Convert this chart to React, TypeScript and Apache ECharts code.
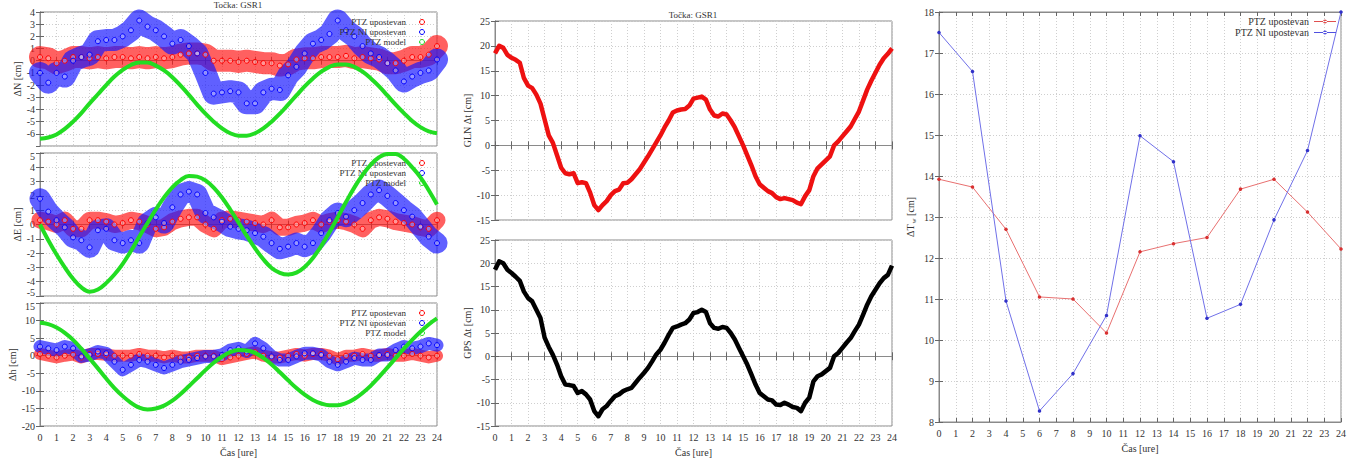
import React, { useEffect, useRef } from 'react';
import * as echarts from 'echarts';

// ---------- DATA ----------
// Left panel: half-hour readings (0, 0.5, ... 24 h)
const N_RED = [0.3,0.2,-0.2,0.0,0.3,0.3,0.2,0.3,0.2,0.3, 0.3,0.2,0.3,0.2,0.3,0.2,0.3,0.5,0.6,0.6, 0.5,0.0,0.0,0.0,-0.1,0.0,-0.1,-0.2,-0.2,-0.4, -0.3,0.1,0.2,0.2,0.3,0.3,0.3,0.4,0.2,0.3, 0.2,0.1,-0.2,-0.2,0.0,0.3,0.3,0.5,1.2];
const N_BLUE = [-1.0,-1.8,-1.0,-1.3,0.0,0.3,0.5,1.6,1.7,1.7, 2.0,2.5,3.3,2.8,2.5,2.0,1.4,1.7,1.2,0.6, -1.0,-2.7,-2.6,-2.5,-2.6,-3.5,-3.5,-2.6,-2.3,-2.4, -1.2,-0.5,0.6,1.4,1.7,2.2,3.3,2.5,2.0,1.2, 0.6,0.3,-0.2,-0.8,-1.7,-1.3,-1.0,-0.8,0.1];
const N_MODEL = [-6.4,-6.3,-6.05,-5.6,-5.0,-4.3,-3.5,-2.75,-2.0,-1.3, -0.75,-0.35,-0.15,-0.15,-0.4,-0.8,-1.35,-2.05,-2.8,-3.6, -4.35,-5.0,-5.55,-5.95,-6.15,-6.15,-5.95,-5.55,-5.0,-4.35, -3.6,-2.85,-2.1,-1.45,-0.9,-0.5,-0.3,-0.3,-0.5,-0.9, -1.45,-2.1,-2.85,-3.6,-4.3,-4.95,-5.45,-5.8,-5.95];

const E_RED = [0.3,0.2,0.0,0.3,-0.3,-0.3,0.3,0.3,0.2,0.0, 0.1,0.3,0.2,0.0,-0.3,-0.2,0.2,0.4,0.5,0.5, 0.0,-0.3,0.3,0.4,0.3,0.2,0.1,0.0,0.3,-0.2, -0.2,0.0,0.1,0.3,0.0,0.2,0.3,0.2,0.0,-0.3, 0.3,0.5,0.4,0.2,0.1,0.0,-0.2,-0.3,0.3];
const E_BLUE = [1.8,0.9,0.3,-0.2,-0.9,-1.1,-1.6,-0.4,-0.3,-1.1, -1.3,-1.1,-1.3,0.1,0.5,0.1,1.2,2.1,2.3,2.1, 0.8,0.5,0.2,-0.15,-0.3,-0.4,-0.6,-0.85,-1.3,-1.7, -1.55,-1.3,-1.55,-1.3,-0.6,0.3,0.8,0.55,1.0,1.5, 2.1,2.4,2.0,1.5,1.0,0.55,-0.15,-0.85,-1.3];
const E_MODEL = [0.0,-1.1,-2.1,-3.0,-3.8,-4.4,-4.7,-4.55,-4.1,-3.5, -2.75,-1.85,-0.85,0.1,1.05,1.9,2.6,3.1,3.4,3.35, 3.08,2.58,1.89,1.05,0.14,-0.8,-1.66,-2.43,-3.04,-3.38, -3.5,-3.37,-2.97,-2.34,-1.51,-0.54,0.51,1.57,2.58,3.47, 4.19,4.7,4.93,4.93,4.6,4.0,3.3,2.4,1.4];

const H_RED = [0.5,0.0,-0.5,0.0,0.3,-0.5,0.5,0.5,0.3,0.0, 0.0,0.0,0.5,0.0,0.0,-0.5,0.0,-0.5,-0.5,0.0, 0.0,0.0,-1.0,-0.5,0.0,0.5,1.0,0.0,-0.5,-0.5, 0.0,0.5,0.0,0.5,0.5,0.0,-1.0,0.0,0.0,0.5, 0.0,0.0,0.5,0.0,0.0,0.5,0.0,-0.5,0.0];
const H_BLUE = [2.6,2.1,1.6,2.6,2.1,-0.2,0.2,1.2,0.7,-1.7, -4.0,-2.6,-1.2,-1.7,-2.6,-3.5,-2.6,-1.7,-1.2,-0.7, -0.2,-0.2,0.2,1.6,2.1,1.2,3.5,2.1,-0.2,-1.2, -1.2,-0.2,0.7,0.7,0.2,-1.7,-2.6,-1.7,-0.7,-1.2, -1.2,0.2,0.2,1.6,2.6,2.1,2.6,3.5,3.0];
const H_MODEL = [9.4,9.0,8.0,6.5,4.5,2.0,-0.8,-3.6,-6.5,-9.2, -11.5,-13.4,-14.8,-15.3,-15.0,-14.2,-12.8,-10.9,-8.7,-6.4, -4.1,-2.0,-0.3,1.0,1.6,1.5,0.8,-0.6,-2.5,-4.7, -7.0,-9.2,-11.1,-12.6,-13.6,-14.1,-14.1,-13.5,-12.3,-10.6, -8.5,-6.0,-3.4,-0.7,2.0,4.5,6.8,8.9,10.6];

// Middle panel: quarter-hour readings (0, 0.25, ... 24 h)
const GLN = [18.5,20.0,19.6,18.2, 17.6,17.2,16.6,13.5, 12.0,11.5,10.2,8.4, 5.2,2.0,0.5,-2.0, -4.5,-5.6,-5.8,-5.6, -7.6,-7.4,-7.6,-9.5, -12.0,-13.0,-12.0,-11.2, -10.0,-9.2,-8.9,-7.6, -7.5,-6.8,-5.8,-4.8, -3.5,-2.2,-0.8,0.6, 2.0,3.6,5.0,6.6, 7.0,7.2,7.3,8.0, 9.4,9.6,9.8,9.2, 7.2,6.0,5.8,6.4, 6.2,5.0,3.6,1.8, 0.0,-2.0,-4.0,-6.2, -7.8,-8.5,-9.2,-9.6, -10.4,-10.8,-10.6,-10.8, -11.0,-11.5,-11.8,-10.2, -9.0,-6.2,-4.6,-3.8, -3.0,-2.2,0.0,0.8, 1.8,2.8,3.8,5.3, 6.8,9.0,11.2,13.0, 14.6,16.2,17.5,18.4, 19.5];
const GPS = [18.6,20.4,20.0,18.6, 17.9,17.1,16.2,13.9, 12.5,11.8,10.0,8.2, 4.0,2.0,0.3,-1.8, -4.3,-6.1,-6.2,-6.4, -7.9,-7.5,-8.2,-9.3, -11.8,-12.9,-11.4,-10.7, -9.6,-8.6,-8.2,-7.5, -7.1,-6.8,-5.7,-4.6, -3.6,-2.5,-1.1,0.4, 1.4,2.9,4.6,6.1, 6.4,6.8,7.1,7.9, 9.3,9.5,10.0,9.5, 7.1,6.1,5.9,6.3, 6.1,5.0,3.6,1.8, 0.0,-1.8,-3.9,-6.1, -7.9,-8.6,-9.3,-9.5, -10.4,-10.5,-10.0,-10.4, -10.9,-11.1,-11.8,-10.0, -8.9,-5.4,-4.3,-3.9, -3.2,-2.5,0.0,0.7, 1.8,2.9,3.9,5.4, 6.8,8.9,11.1,12.9, 14.3,15.7,16.8,17.5, 19.5];

// Right panel: two-hourly values
const TW_HOURS = [0, 2, 4, 6, 8, 10, 12, 14, 16, 18, 20, 22, 24];
const TW_RED = [13.92, 13.73, 12.70, 11.05, 11.00, 10.17, 12.15, 12.35, 12.50, 13.68, 13.92, 13.12, 12.22];
const TW_BLUE = [17.50, 16.55, 10.95, 8.27, 9.18, 10.60, 14.98, 14.35, 10.53, 10.87, 12.93, 14.62, 18.0];

const NAME_RED = 'PTZ upostevan';
const NAME_BLUE = 'PTZ NI upostevan';
const NAME_MODEL = 'PTZ model';
const TITLE = 'Točka: GSR1';
const X_NAME = 'Čas [ure]';

// ---------- OPTION ----------
const FONT = "'Liberation Serif', 'DejaVu Serif', serif";
const RED = '#ff0000';
const BLUE = '#0000ff';
const GREEN = '#22dd22';

const pairs = (vals: number[], step: number) => vals.map((v, i) => [i * step, v]);
const pairsAt = (xs: number[], vals: number[]) => vals.map((v, i) => [xs[i], v]);

const GRIDS = [
  { left: 40, top: 12, width: 397, height: 134 },
  { left: 40, top: 153, width: 397, height: 143 },
  { left: 40, top: 303, width: 397, height: 124 },
  { left: 495, top: 21, width: 397, height: 199 },
  { left: 495, top: 240, width: 397, height: 187 },
  { left: 939, top: 12, width: 406, height: 415 },
];

const Y_CFG = [
  { min: -7, max: 4, interval: 1, name: 'ΔN [cm]', gap: 17 },
  { min: -5, max: 5, interval: 1, name: 'ΔE [cm]', gap: 17 },
  { min: -20, max: 15, interval: 5, name: 'Δh [cm]', gap: 22 },
  { min: -15, max: 25, interval: 5, name: 'GLN Δt [cm]', gap: 22 },
  { min: -15, max: 25, interval: 5, name: 'GPS Δt [cm]', gap: 22 },
  { min: 8, max: 18, interval: 1, name: '{a|ΔT}{s|w}{a| [cm]}', gap: 22 },
];
const X_LABELS = [false, false, true, false, true, true];
// stacked left panels: shift the shared edge labels apart a little
const SHIFT_MIN = [true, true, false, false, false, false];
const SHIFT_MAX = [false, true, true, false, false, false];

function buildOption(): any {
  const axisLine = { show: true, lineStyle: { color: '#8a8a8a', width: 1 } };
  const axisTick = { show: true, inside: true, length: 4, lineStyle: { color: '#666' } };
  const splitLine = { show: true, lineStyle: { color: '#cfcfcf', type: [1, 2], width: 1 } };
  const labelStyle = { fontFamily: FONT, fontSize: 10, color: '#333' };

  const grid = GRIDS.map((g) => ({ ...g, show: true, borderColor: '#8a8a8a', borderWidth: 1, backgroundColor: 'transparent' }));
  const xAxis: any[] = [];
  const yAxis: any[] = [];
  GRIDS.forEach((_, i) => {
    xAxis.push({
      type: 'value', gridIndex: i, min: 0, max: 24, interval: 1, position: 'bottom',
      axisLine, axisTick, splitLine,
      axisLabel: { show: X_LABELS[i], margin: 6, ...labelStyle },
      name: X_LABELS[i] ? X_NAME : '', nameLocation: 'middle', nameGap: 21,
      nameTextStyle: { fontFamily: FONT, fontSize: 10, color: '#333' },
    });
    xAxis.push({
      type: 'value', gridIndex: i, min: 0, max: 24, interval: 1, position: 'top',
      axisLine, axisTick, splitLine: { show: false }, axisLabel: { show: false },
    });
    const c = Y_CFG[i];
    yAxis.push({
      type: 'value', gridIndex: i, min: c.min, max: c.max, interval: c.interval, position: 'left',
      axisLine, axisTick, splitLine,
      axisLabel: {
        margin: 5, ...labelStyle,
        formatter: (v: number) => {
          if (v === c.min && SHIFT_MIN[i]) return `{lo|${v}}`;
          if (v === c.max && SHIFT_MAX[i]) return `{hi|${v}}`;
          return `${v}`;
        },
        rich: {
          lo: { ...labelStyle, padding: [0, 0, 7, 0] },
          hi: { ...labelStyle, padding: [7, 0, 0, 0] },
        },
      },
      name: c.name, nameLocation: 'middle', nameRotate: 90, nameGap: c.gap,
      nameTextStyle: {
        fontFamily: FONT, fontSize: 10, color: '#333',
        rich: { a: { fontFamily: FONT, fontSize: 10, color: '#333' }, s: { fontFamily: FONT, fontSize: 7, color: '#333', padding: [6, 0, 0, 1] } },
      },
    });
    yAxis.push({
      type: 'value', gridIndex: i, min: c.min, max: c.max, interval: c.interval, position: 'right',
      axisLine, axisTick, splitLine: { show: false }, axisLabel: { show: false },
    });
  });

  const cloud = (name: string, g: number, vals: number[], color: string, band: string, width: number) => ({
    type: 'line', name, xAxisIndex: 2 * g, yAxisIndex: 2 * g, data: pairs(vals, 0.5),
    showSymbol: true, symbol: 'circle', symbolSize: 5,
    itemStyle: { color: 'rgba(255,255,255,0.35)', borderColor: color, borderWidth: 1 },
    lineStyle: { color: band, width, cap: 'round', join: 'round' },
    silent: true, animation: false,
  });
  const model = (g: number, vals: number[]) => ({
    type: 'line', name: NAME_MODEL, xAxisIndex: 2 * g, yAxisIndex: 2 * g, data: pairs(vals, 0.5),
    showSymbol: false, smooth: 0.4, lineStyle: { color: GREEN, width: 4 }, itemStyle: { color: GREEN },
    silent: true, z: 5,
  });

  const series: any[] = [
    cloud(NAME_RED, 0, N_RED, RED, 'rgba(255,20,20,0.68)', 22),
    cloud(NAME_BLUE, 0, N_BLUE, BLUE, 'rgba(20,20,255,0.68)', 22),
    model(0, N_MODEL),
    cloud(NAME_RED, 1, E_RED, RED, 'rgba(255,20,20,0.68)', 17),
    cloud(NAME_BLUE, 1, E_BLUE, BLUE, 'rgba(20,20,255,0.68)', 21),
    model(1, E_MODEL),
    cloud(NAME_RED, 2, H_RED, RED, 'rgba(255,20,20,0.68)', 12),
    cloud(NAME_BLUE, 2, H_BLUE, BLUE, 'rgba(20,20,255,0.68)', 13),
    model(2, H_MODEL),
    {
      type: 'line', name: 'GLN', xAxisIndex: 6, yAxisIndex: 6, data: pairs(GLN, 0.25),
      showSymbol: false, lineStyle: { color: '#ee1111', width: 4.5, join: 'round' }, silent: true,
    },
    {
      type: 'line', name: 'GPS', xAxisIndex: 8, yAxisIndex: 8, data: pairs(GPS, 0.25),
      showSymbol: false, lineStyle: { color: '#000', width: 4.5, join: 'round' }, silent: true,
    },
    {
      type: 'line', name: NAME_RED + ' ', xAxisIndex: 10, yAxisIndex: 10, data: pairsAt(TW_HOURS, TW_RED),
      symbol: 'circle', symbolSize: 3.5, showSymbol: true,
      lineStyle: { color: '#e87070', width: 1 }, itemStyle: { color: '#d83030' }, silent: true,
    },
    {
      type: 'line', name: NAME_BLUE + ' ', xAxisIndex: 10, yAxisIndex: 10, data: pairsAt(TW_HOURS, TW_BLUE),
      symbol: 'circle', symbolSize: 3.5, showSymbol: true,
      lineStyle: { color: '#7070e8', width: 1 }, itemStyle: { color: '#3030c8' }, silent: true,
    },
  ];

  const legendText = { fontFamily: FONT, fontSize: 9, color: '#333', lineHeight: 10 };
  const leftLegend = (top: number) => ({
    orient: 'vertical', right: 924, top, align: 'right', itemWidth: 22, itemHeight: 5, itemGap: 0,
    selectedMode: false, textStyle: legendText, padding: 0,
    data: [
      { name: NAME_RED, icon: 'circle', itemStyle: { color: 'transparent', borderColor: RED, borderWidth: 1 } },
      { name: NAME_BLUE, icon: 'circle', itemStyle: { color: 'transparent', borderColor: BLUE, borderWidth: 1 } },
      { name: NAME_MODEL, icon: 'circle', itemStyle: { color: 'transparent', borderColor: GREEN, borderWidth: 1 } },
    ],
  });
  const lineIcon = 'path://M0,3.5h22v1h-22z M9,4a2,2 0 1,0 4,0a2,2 0 1,0 -4,0z';
  const legend = [
    leftLegend(17),
    leftLegend(158),
    leftLegend(308),
    {
      orient: 'vertical', right: 13, top: 16, align: 'right', itemWidth: 22, itemHeight: 8, itemGap: 0,
      selectedMode: false, padding: 0, textStyle: { fontFamily: FONT, fontSize: 10, color: '#333', lineHeight: 11 },
      formatter: (n: string) => n.trim(),
      data: [
        { name: NAME_RED + ' ', icon: lineIcon, itemStyle: { color: '#e05050' } },
        { name: NAME_BLUE + ' ', icon: lineIcon, itemStyle: { color: '#5050e0' } },
      ],
    },
  ];

  const graphic = [
    { type: 'text', x: 238, y: 5, style: { text: TITLE, font: `9px ${FONT}`, fill: '#333', textAlign: 'center', textVerticalAlign: 'middle' } },
    { type: 'text', x: 693, y: 15, style: { text: TITLE, font: `9px ${FONT}`, fill: '#333', textAlign: 'center', textVerticalAlign: 'middle' } },
  ];

  return { animation: false, backgroundColor: '#fff', grid, xAxis, yAxis, series, legend, graphic };
}

export default function App() {
  const ref = useRef<HTMLDivElement>(null);
  useEffect(() => {
    const chart = echarts.init(ref.current as HTMLDivElement, null, { renderer: 'svg' });
    chart.setOption(buildOption());
    return () => chart.dispose();
  }, []);
  return <div ref={ref} style={{ position: 'absolute', left: 0, top: 0, width: 1349, height: 458, background: '#fff' }} />;
}
